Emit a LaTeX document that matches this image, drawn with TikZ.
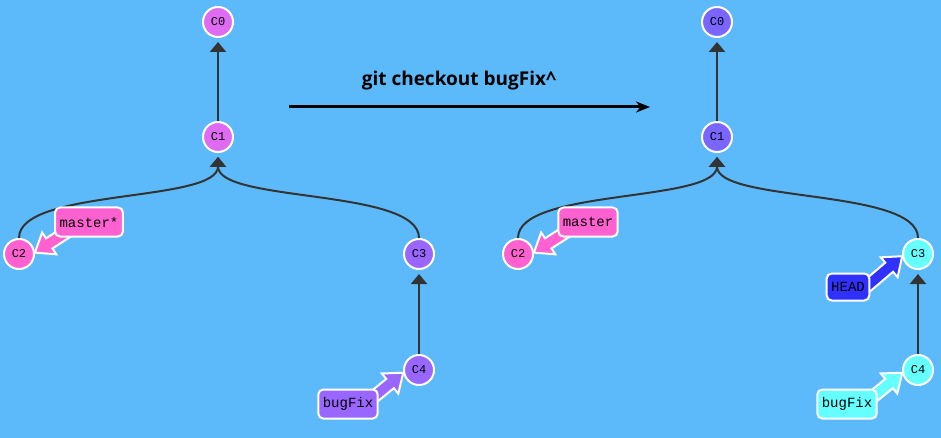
\documentclass[tikz,border=0pt]{standalone}
\usepackage{fontspec}
\setmainfont{Liberation Serif}
\newfontfamily\monofont{Liberation Mono}
\newfontfamily\titlefont{Open Sans}
\usetikzlibrary{calc,arrows.meta}
\usepackage{xcolor}

\definecolor{bgblue}{HTML}{5CBAFB}
\definecolor{magc}{HTML}{DF6BF3}
\definecolor{pinkc}{HTML}{FF62D0}
\definecolor{purpc}{HTML}{9966FF}
\definecolor{violc}{HTML}{7A66FF}
\definecolor{cyanc}{HTML}{66FFFF}
\definecolor{headc}{HTML}{3030FF}
\definecolor{edgec}{HTML}{333333}

% fat pointer from a branch label to its commit
\newcommand\branchptr[3]{%
  \draw[ptr,fill=#3] let \p1=(#1), \p2=(#2), \p3=($(\p2)-(\p1)$), \n1={atan2(\y3,\x3)} in
    ($(\p1)+(\n1+90:6pt)$) -- ($(\p2)+(\n1+180:17pt)+(\n1+90:6pt)$)
    -- ($(\p2)+(\n1+180:17pt)+(\n1+90:13pt)$) -- (\p2)
    -- ($(\p2)+(\n1+180:17pt)+(\n1-90:13pt)$) -- ($(\p2)+(\n1+180:17pt)+(\n1-90:6pt)$)
    -- ($(\p1)+(\n1-90:6pt)$) -- cycle;}

\begin{document}
\begin{tikzpicture}[x=1pt,y=-1pt,
  commit/.style={circle,draw=white,line width=2pt,inner sep=0pt,minimum size=30pt,
    font=\monofont\fontsize{12}{12}\selectfont},
  branch/.style={rectangle,rounded corners=5pt,draw=white,line width=2pt,inner xsep=4.5pt,
    inner ysep=0pt,minimum height=29pt,font=\monofont\fontsize{14}{14}\selectfont},
  edge/.style={draw=edgec,line width=2pt,-{Triangle[length=10pt,width=16pt]},shorten >=4pt},
  ptr/.style={draw=white,line width=2pt,line join=miter}]
  \useasboundingbox[fill=bgblue] (0,0) rectangle (941,438);

  % before
  \node[commit,fill=magc] (lc0) at (218,22) {C0};
  \node[commit,fill=magc] (lc1) at (218,137) {C1};
  \node[commit,fill=pinkc] (lc2) at (19,254) {C2};
  \node[commit,fill=purpc] (lc3) at (419,254) {C3};
  \node[commit,fill=purpc] (lc4) at (419,370) {C4};
  \draw[edge] (lc1) -- (lc0);
  \draw[edge] (lc2.north) .. controls +(0,-50) and +(0,50) .. (lc1.south);
  \draw[edge] (lc3.north) .. controls +(0,-50) and +(0,50) .. (lc1.south);
  \draw[edge] (lc4) -- (lc3);
  \coordinate (lmasterpos) at (89,222);
  \coordinate (lbugfixpos) at (348,404);
  \branchptr{[shift={(-19,8)}]lmasterpos}{lc2.5}{pinkc}
  \branchptr{[shift={(17,0)}]lbugfixpos}{lc4.190}{purpc}
  \node[branch,fill=pinkc] (lmaster) at (lmasterpos) {master*};
  \node[branch,fill=purpc] (lbugfix) at (lbugfixpos) {bugFix};

  % command
  \node[font=\titlefont\bfseries\fontsize{19}{19}\selectfont] (cmd) at (459,81) {git checkout bugFix\textasciicircum};
  \coordinate (cmdfrom) at (289,107);
  \coordinate (cmdto) at (650,107);
  \draw[line width=3pt,-{Stealth[length=14pt,width=11pt]}] (cmdfrom) -- (cmdto);

  % after
  \node[commit,fill=violc] (rc0) at (717,22) {C0};
  \node[commit,fill=violc] (rc1) at (717,137) {C1};
  \node[commit,fill=pinkc] (rc2) at (518,254) {C2};
  \node[commit,fill=cyanc] (rc3) at (918,254) {C3};
  \node[commit,fill=cyanc] (rc4) at (918,370) {C4};
  \draw[edge] (rc1) -- (rc0);
  \draw[edge] (rc2.north) .. controls +(0,-50) and +(0,50) .. (rc1.south);
  \draw[edge] (rc3.north) .. controls +(0,-50) and +(0,50) .. (rc1.south);
  \draw[edge] (rc4) -- (rc3);
  \coordinate (rmasterpos) at (588,222);
  \coordinate (rheadpos) at (848,287);
  \coordinate (rbugfixpos) at (847,404);
  \branchptr{[shift={(-19,8)}]rmasterpos}{rc2.5}{pinkc}
  \branchptr{[shift={(12,5)}]rheadpos}{rc3.188}{headc}
  \branchptr{[shift={(17,0)}]rbugfixpos}{rc4.190}{cyanc}
  \node[branch,fill=pinkc] (rmaster) at (rmasterpos) {master};
  \node[branch,fill=headc,minimum height=27pt] (rhead) at (rheadpos) {HEAD};
  \node[branch,fill=cyanc] (rbugfix) at (rbugfixpos) {bugFix};
\end{tikzpicture}
\end{document}
